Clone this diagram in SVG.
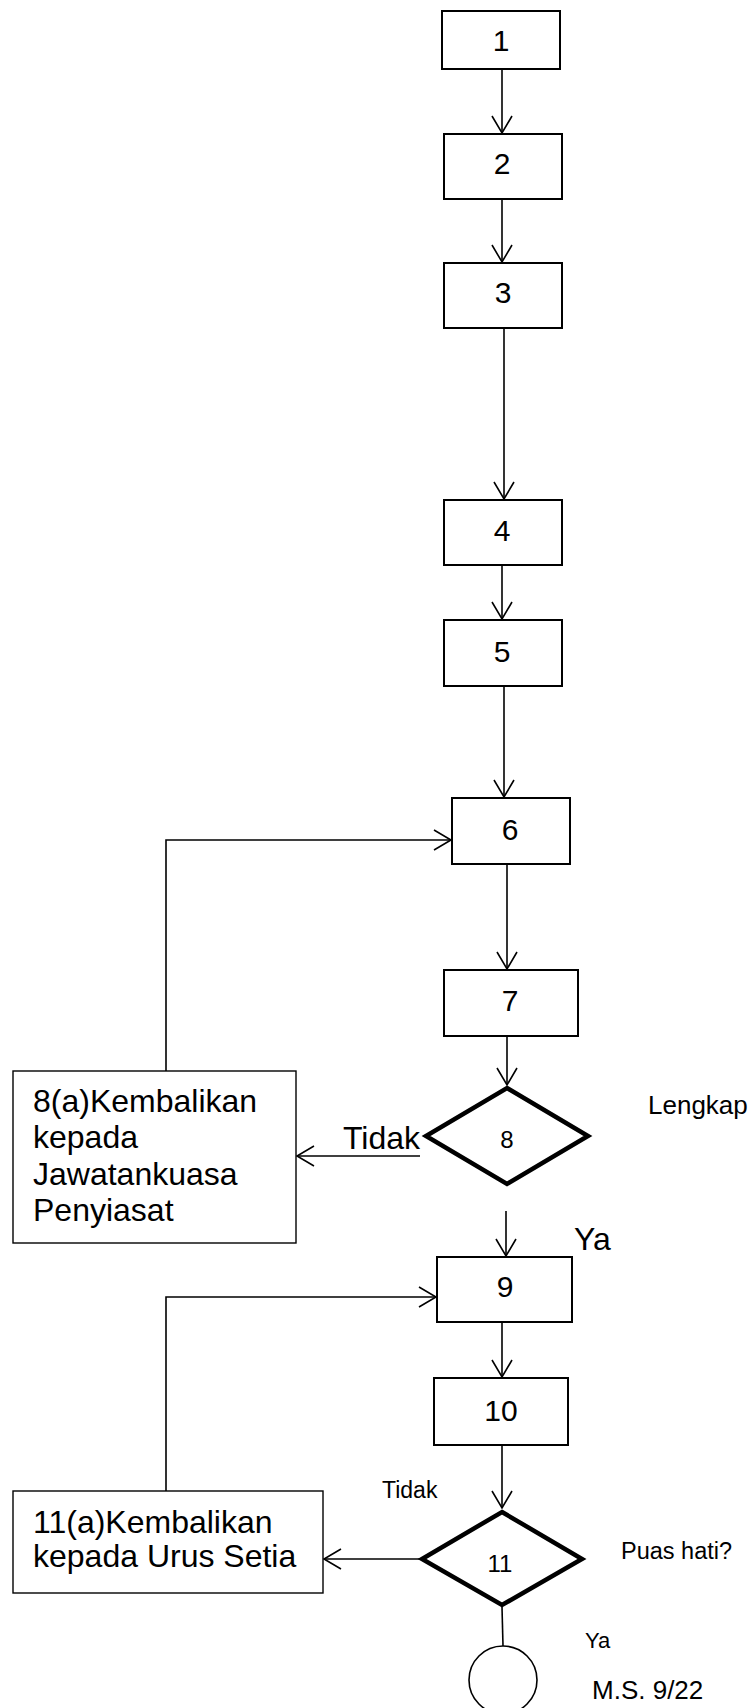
<svg xmlns="http://www.w3.org/2000/svg" width="752" height="1708" viewBox="0 0 752 1708">
<style>
.box{fill:#fff;stroke:#000;stroke-width:2}
.tbox{fill:#fff;stroke:#000;stroke-width:1.4}
.dia{fill:#fff;stroke:#000;stroke-width:4.5;stroke-linejoin:miter}
.ln{fill:none;stroke:#000;stroke-width:1.6}
.arr{fill:none;stroke:#000;stroke-width:1.6;marker-end:url(#ah)}
text{font-family:"Liberation Sans",Arial,sans-serif;fill:#000}
.num{font-size:30px;text-anchor:middle}
.big{font-size:32px}
</style>
<defs>
<marker id="ah" markerUnits="userSpaceOnUse" markerWidth="24" markerHeight="24" viewBox="-20 -12 24 24" refX="0" refY="0" orient="auto">
<path d="M-17,-10 L0,0 L-17,10" fill="none" stroke="#000" stroke-width="1.6"/>
</marker>
</defs>
<g id="connectors">
<line class="arr" x1="502" y1="69" x2="502" y2="133"/>
<line class="arr" x1="502" y1="199" x2="502" y2="262"/>
<line class="arr" x1="504" y1="328" x2="504" y2="499"/>
<line class="arr" x1="502" y1="565" x2="502" y2="619"/>
<line class="arr" x1="504" y1="686" x2="504" y2="797"/>
<line class="arr" x1="507" y1="864" x2="507" y2="969"/>
<line class="arr" x1="507" y1="1036" x2="507" y2="1085"/>
<line class="arr" x1="420" y1="1156" x2="297" y2="1156"/>
<polyline class="arr" points="166,1071 166,840 451,840"/>
<line class="arr" x1="506" y1="1211" x2="506" y2="1256"/>
<line class="arr" x1="502" y1="1322" x2="502" y2="1377"/>
<line class="arr" x1="502" y1="1445" x2="502" y2="1508"/>
<polyline class="arr" points="166,1491 166,1297 436,1297"/>
<line class="arr" x1="420" y1="1559" x2="324" y2="1559"/>
<line class="ln" x1="502" y1="1607" x2="503" y2="1646"/>
</g>
<g id="n1"><rect class="box" x="442" y="11" width="118" height="58"/><text class="num" x="501" y="51">1</text></g>
<g id="n2"><rect class="box" x="444" y="134" width="118" height="65"/><text class="num" x="502" y="174">2</text></g>
<g id="n3"><rect class="box" x="444" y="263" width="118" height="65"/><text class="num" x="503" y="303">3</text></g>
<g id="n4"><rect class="box" x="444" y="500" width="118" height="65"/><text class="num" x="502" y="541">4</text></g>
<g id="n5"><rect class="box" x="444" y="620" width="118" height="66"/><text class="num" x="502" y="662">5</text></g>
<g id="n6"><rect class="box" x="452" y="798" width="118" height="66"/><text class="num" x="510" y="840">6</text></g>
<g id="n7"><rect class="box" x="444" y="970" width="134" height="66"/><text class="num" x="510" y="1011">7</text></g>
<g id="n8"><polygon class="dia" points="507,1088 588,1136 507,1184 426,1136"/><text x="507" y="1148" font-size="24" text-anchor="middle">8</text></g>
<g id="n8a"><rect class="tbox" x="13" y="1071" width="283" height="172"/>
<text class="big" x="33" y="1112">8(a)Kembalikan</text>
<text class="big" x="33" y="1148">kepada</text>
<text class="big" x="33" y="1185">Jawatankuasa</text>
<text class="big" x="33" y="1221">Penyiasat</text></g>
<g id="n9"><rect class="box" x="437" y="1257" width="135" height="65"/><text class="num" x="505" y="1297">9</text></g>
<g id="n10"><rect class="box" x="434" y="1378" width="134" height="67"/><text class="num" x="501" y="1421">10</text></g>
<g id="n11"><polygon class="dia" points="502,1512 582,1559 502,1605 422,1559"/><text x="500" y="1572" font-size="24" text-anchor="middle">11</text></g>
<g id="n11a"><rect class="tbox" x="13" y="1491" width="310" height="102"/>
<text class="big" x="33" y="1533">11(a)Kembalikan</text>
<text class="big" x="33" y="1567">kepada Urus Setia</text></g>
<g id="end"><circle cx="503" cy="1680" r="34" fill="#fff" stroke="#000" stroke-width="1.6"/></g>
<g id="labels">
<text x="343" y="1149" font-size="32">Tidak</text>
<text x="648" y="1114" font-size="26">Lengkap</text>
<text x="574" y="1250" font-size="32">Ya</text>
<text x="382" y="1498" font-size="23">Tidak</text>
<text x="621" y="1559" font-size="23.5">Puas hati?</text>
<text x="585" y="1648" font-size="22">Ya</text>
<text x="592" y="1699" font-size="26">M.S. 9/22</text>
</g>
</svg>
